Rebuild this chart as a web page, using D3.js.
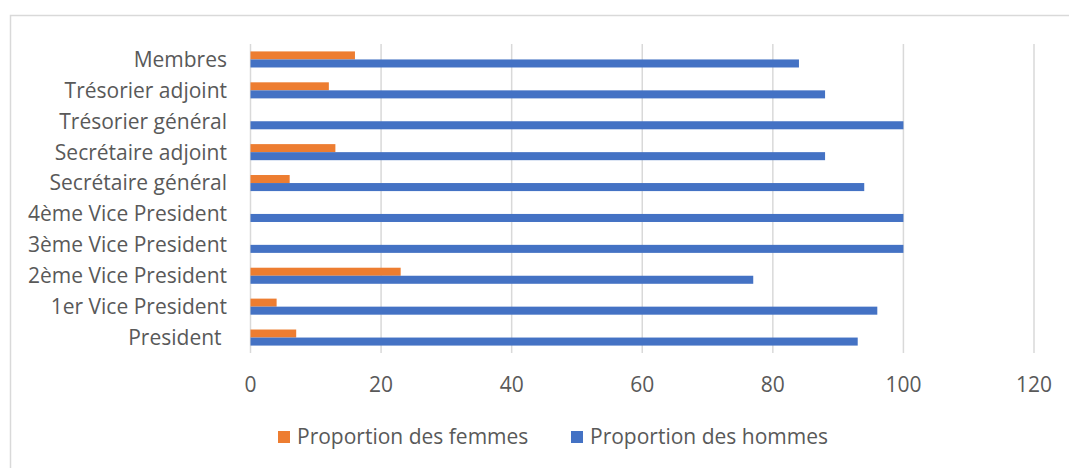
<!DOCTYPE html>
<html>
<head>
<meta charset="utf-8">
<script src="https://cdn.jsdelivr.net/npm/d3@7"></script>
<style>
  body { margin: 0; background: #fff; }
  text { font-family: "Open Sans", Lato, sans-serif; fill: #595959; }
</style>
</head>
<body>
<script>
//Data, top to bottom like the chart.
var categories = ["Membres", "Trésorier adjoint", "Trésorier général", "Secrétaire adjoint", "Secrétaire général",
  "4ème Vice President", "3ème Vice President", "2ème Vice President", "1er Vice President", "President "];
var femmes = [16, 12, 0, 13, 6, 0, 0, 23, 4, 7];
var hommes = [84, 88, 100, 88, 94, 100, 100, 77, 96, 93];
var seriesNames = ["Proportion des femmes", "Proportion des hommes"];
var xTicks = [0, 20, 40, 60, 80, 100, 120];

var colors = ["#ED7D31", "#4472C4"];
var width = 1069, height = 468;
var fontSize = "21px";

var svg = d3.select("body").append("svg")
  .attr("width", width)
  .attr("height", height);

//Chart frame (runs off the right and bottom edge).
svg.append("rect")
  .attr("x", 10.5).attr("y", 15.5)
  .attr("width", width).attr("height", height)
  .attr("fill", "none").attr("stroke", "#d9d9d9").attr("stroke-width", 1.5);

var x = d3.scaleLinear().domain([0, 120]).range([250.5, 1034]);
var y = d3.scaleBand().domain(categories).range([44, 353]).paddingInner(0.48).paddingOuter(0.24);
var sub = d3.scaleBand().domain([0, 1]).range([0, y.bandwidth()]);

//Gridlines
svg.append("g").selectAll("line").data(xTicks).join("line")
  .attr("x1", d => x(d)).attr("x2", d => x(d))
  .attr("y1", 44).attr("y2", 353)
  .attr("stroke", "#d9d9d9").attr("stroke-width", 1.5);

//Bars
var rows = categories.map((c, i) => ({ cat: c, vals: [femmes[i], hommes[i]] }));
var g = svg.append("g").selectAll("g").data(rows).join("g")
  .attr("transform", d => "translate(0," + y(d.cat) + ")");
g.selectAll("rect").data(d => d.vals).join("rect")
  .attr("x", x(0))
  .attr("y", (d, i) => sub(i))
  .attr("height", sub.bandwidth())
  .attr("width", d => x(d) - x(0))
  .attr("fill", (d, i) => colors[i]);

//Category labels
svg.append("g").selectAll("text").data(categories).join("text")
  .attr("x", 227)
  .attr("y", d => y(d) + y.bandwidth() / 2)
  .attr("dy", "0.35em")
  .attr("text-anchor", "end")
  .style("white-space", "pre")
  .style("font-size", fontSize)
  .text(d => d);

//X tick labels
svg.append("g").selectAll("text").data(xTicks).join("text")
  .attr("x", d => x(d))
  .attr("y", 385)
  .attr("dy", "0.35em")
  .attr("text-anchor", "middle")
  .style("font-size", fontSize)
  .text(d => d);

//Legend
var legendX = [278, 571];
var lg = svg.append("g").selectAll("g").data(seriesNames).join("g")
  .attr("transform", (d, i) => "translate(" + legendX[i] + ",437)");
lg.append("rect").attr("x", 0).attr("y", -6).attr("width", 12).attr("height", 12)
  .attr("fill", (d, i) => colors[i]);
lg.append("text").attr("x", 19).attr("dy", "0.35em")
  .style("font-size", fontSize)
  .text(d => d);
</script>
</body>
</html>
